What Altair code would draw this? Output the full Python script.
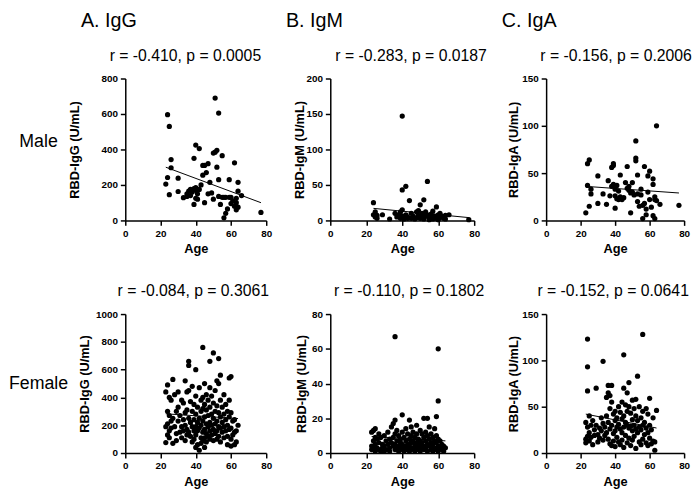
import altair as alt
import pandas as pd

FONT = "Liberation Sans"

# ---------------- data (age -> values) ----------------
male_igg = {23: [205], 24: [596, 242], 25: [530, 145], 26: [343, 297], 30: [238, 163],
            33: [128], 35: [150, 135], 36: [165], 37: [175, 140], 38: [160], 39: [350, 180, 90],
            40: [425, 185, 170, 125], 41: [120, 150], 42: [405, 175], 43: [200], 44: [310, 255],
            45: [310, 100], 46: [270], 47: [150, 320], 48: [215], 49: [155], 50: [380, 120],
            51: [690, 385], 52: [395, 300], 53: [605, 230, 135], 54: [90], 55: [365, 130],
            56: [15, 130], 57: [40, 130], 58: [65], 59: [130, 230], 60: [130, 95], 61: [110],
            62: [325, 80], 63: [125, 60, 100], 64: [215, 165, 75], 66: [140], 77: [45]}
male_igm = {24: [25, 8], 25: [5, 12], 26: [3, 7], 29: [8], 33: [2], 36: [10], 37: [5], 38: [8],
            39: [3, 12], 40: [147, 43, 15, 6], 41: [4, 2], 42: [48, 8], 43: [5, 3], 44: [28],
            45: [10, 3], 46: [6], 47: [2], 48: [12, 4], 49: [14, 7], 50: [22, 3], 51: [10, 5],
            52: [29, 2], 53: [12, 6], 54: [55, 8], 55: [3, 1], 56: [9, 4], 57: [13, 2], 58: [6],
            59: [19, 3], 60: [8, 1], 61: [10, 4], 62: [6], 63: [3], 64: [7, 2], 66: [8], 77: [1]}
male_iga = {23: [8], 24: [37, 60], 25: [64, 15], 26: [33, 28], 30: [47, 18], 33: [28], 35: [17],
            36: [42], 37: [26], 38: [36, 56], 39: [60, 58, 38], 40: [26, 13, 33], 41: [37, 23],
            42: [22, 31], 43: [48, 25], 44: [22], 45: [24], 46: [40], 47: [57, 34], 48: [32, 36],
            49: [29, 8], 50: [40, 30], 51: [27], 52: [84, 66, 63], 53: [48, 28, 20], 54: [15],
            55: [33, 27], 56: [2, 16], 57: [57, 18], 58: [6, 12], 59: [47, 30], 60: [52, 22],
            61: [14], 62: [44, 38, 5], 63: [25, 22, 2], 64: [100, 21], 66: [17], 77: [16]}
fem_igg = {23: [75, 190, 440], 24: [490, 300, 130, 210], 25: [270, 160, 400, 110],
           26: [380, 230, 180], 27: [530, 70, 250], 28: [190, 420], 29: [300, 140, 90],
           30: [440, 230, 330], 31: [150, 270], 32: [380, 190, 110], 33: [360, 240, 160],
           34: [520, 290, 200, 90], 35: [440, 310, 170, 130], 36: [660, 630, 450, 250, 150],
           37: [370, 220, 120], 38: [480, 300, 190, 80], 39: [350, 240, 160, 100],
           40: [600, 410, 280, 190, 130, 40], 41: [330, 220, 160, 60], 42: [470, 250, 180, 20],
           43: [380, 300, 200, 110, 70], 44: [760, 400, 320, 230, 150, 90],
           45: [500, 350, 260, 170, 110, 40], 46: [420, 310, 210, 140, 80], 47: [380, 270, 190, 120],
           48: [660, 470, 330, 220, 160, 100], 49: [410, 280, 200, 130], 50: [720, 360, 250, 170, 90],
           51: [450, 300, 210, 140], 52: [520, 340, 230, 160, 100], 53: [680, 500, 290, 190, 120],
           54: [560, 380, 260, 180, 80], 55: [330, 220, 150], 56: [420, 280, 190, 110],
           57: [350, 240, 160], 58: [300, 200, 120, 60], 59: [540, 380, 260, 170],
           60: [550, 290, 180, 100, 50], 61: [230, 130], 62: [240, 150, 60], 63: [160, 80], 64: [200]}
fem_igm = {23: [4, 12, 2], 24: [13, 7, 3], 25: [14, 9, 5, 1], 26: [8, 3], 27: [11, 6, 2], 28: [9, 1],
           29: [5, 3], 30: [10, 4, 1], 31: [7, 2], 32: [12, 5], 33: [8, 3, 1], 34: [15, 6],
           35: [17, 9, 4], 36: [67, 19, 11, 5, 2], 37: [13, 7, 3], 38: [10, 4, 1], 39: [8, 6, 2],
           40: [22, 12, 5, 3], 41: [9, 4, 1], 42: [14, 7, 2], 43: [11, 5, 3], 44: [19, 8, 4, 1],
           45: [15, 10, 6, 2], 46: [12, 7, 3], 47: [9, 5, 1], 48: [16, 11, 6, 3], 49: [8, 4, 2],
           50: [13, 7, 5, 1], 51: [11, 6, 3], 52: [20, 9, 4, 2], 53: [12, 7, 3], 54: [20, 10, 5, 1],
           55: [15, 8, 4], 56: [11, 6, 2], 57: [9, 5, 3, 1], 58: [14, 7, 2], 59: [21, 10, 6, 3],
           60: [60, 30, 8, 4, 1], 61: [7, 3], 62: [5, 2], 63: [4, 1], 64: [3]}
fem_iga = {23: [33, 15, 11], 24: [123, 93, 67, 28, 18], 25: [40, 22, 13], 26: [30, 17], 27: [35, 9],
           28: [25, 19], 29: [70, 30], 30: [20, 12], 31: [27, 16], 32: [38, 24], 33: [99, 32, 14],
           34: [28, 19], 35: [60, 40, 22], 36: [73, 65, 33, 15], 37: [62, 48, 26, 10],
           38: [73, 55, 30, 8], 39: [42, 21, 13], 40: [45, 35, 24, 7], 41: [38, 28, 17],
           42: [50, 31, 12], 43: [44, 26, 9], 44: [55, 37, 22, 14], 45: [106, 70, 40, 28, 6],
           46: [52, 33, 19], 47: [65, 45, 30, 11], 48: [76, 50, 27, 16], 49: [43, 29, 8],
           50: [57, 36, 24, 14], 51: [48, 30, 18], 52: [58, 40, 26, 5], 53: [83, 35, 22],
           54: [50, 28, 12], 55: [38, 25, 9], 56: [128, 45, 30, 15], 57: [33, 20], 58: [48, 27, 11],
           59: [42, 22, 8], 60: [59, 30, 16], 61: [25, 10], 62: [38, 13], 63: [12, 3], 64: [46]}

# regression lines: ([age start, age end], [value start, value end])
male_igg_fit = ([23, 77], [300, 100])
male_igm_fit = ([24, 77], [17, 4])
male_iga_fit = ([23, 77], [36, 29])
fem_igg_fit = ([23, 64], [282, 248])
fem_igm_fit = ([23, 64], [9.5, 7])
fem_iga_fit = ([23, 64], [42, 27])

stats = ["r = -0.410, p = 0.0005", "r = -0.283, p = 0.0187", "r = -0.156, p = 0.2006",
         "r = -0.084, p = 0.3061", "r = -0.110, p = 0.1802", "r = -0.152, p = 0.0641"]
headers = ["A. IgG", "B. IgM", "C. IgA"]
rows = ["Male", "Female"]
y_titles = ["RBD-IgG (U/mL)", "RBD-IgM (U/mL)", "RBD-IgA (U/mL)"]
x_ticks = [0, 20, 40, 60, 80]


def panel(data, fit, ymax, ystep, ytitle, stat, stat_x, w, h, title_x, header=None):
    df = pd.DataFrame([(a, v) for a, vs in data.items() for v in vs], columns=["Age", "Value"])
    x = alt.X("Age:Q", scale=alt.Scale(domain=[0, 80], nice=False),
              axis=alt.Axis(values=x_ticks, title="Age", format="d"))
    y = alt.Y("Value:Q", scale=alt.Scale(domain=[0, ymax], nice=False),
              axis=alt.Axis(values=list(range(0, ymax + 1, ystep)), title=ytitle, format="d",
                            titleX=title_x, titleBaseline="middle"))
    pts = alt.Chart(df).mark_circle(size=28, color="black", opacity=1).encode(x=x, y=y)
    fdf = pd.DataFrame({"Age": fit[0], "Value": fit[1]})
    line = alt.Chart(fdf).mark_line(color="black", strokeWidth=1).encode(x=x, y=y)
    sdf = pd.DataFrame({"t": [stat]})
    stat_txt = alt.Chart(sdf).mark_text(align="center", baseline="middle", fontSize=16,
                                        font=FONT, color="black").encode(
        text="t:N", x=alt.value(stat_x), y=alt.value(-23))
    layers = [pts, line, stat_txt]
    if header:
        hdf = pd.DataFrame({"t": [header]})
        layers.append(alt.Chart(hdf).mark_text(align="left", baseline="alphabetic", fontSize=20,
                                               font=FONT, color="black")
                      .encode(text="t:N", x=alt.value(-45), y=alt.value(-52)))
    return alt.layer(*layers).properties(width=w, height=h)


def label(txt, h, ypos):
    return alt.Chart(pd.DataFrame({"t": [txt]})).mark_text(
        fontSize=18, font=FONT, align="center", baseline="middle", color="black"
    ).encode(text="t:N", x=alt.value(28), y=alt.value(ypos)).properties(width=116, height=h)


def spacer(w):
    return alt.Chart(pd.DataFrame({"t": [""]})).mark_text().encode(text="t:N").properties(width=w, height=10)


W = [143, 146, 140]
H1, H2 = 144, 141

p1 = panel(male_igg, male_igg_fit, 800, 200, y_titles[0], stats[0], 61, W[0], H1, -51, headers[0])
p2 = panel(male_igm, male_igm_fit, 200, 50, y_titles[1], stats[1], 82, W[1], H1, -31, headers[1])
p3 = panel(male_iga, male_iga_fit, 150, 50, y_titles[2], stats[2], 71, W[2], H1, -33, headers[2])
p4 = panel(fem_igg, fem_igg_fit, 1000, 200, y_titles[0], stats[3], 69, W[0], H2, -41)
p5 = panel(fem_igm, fem_igm_fit, 80, 20, y_titles[1], stats[4], 80, W[1], H2, -29)
p6 = panel(fem_iga, fem_iga_fit, 150, 50, y_titles[2], stats[5], 68, W[2], H2, -33)

chart = alt.concat(
    label(rows[0], H1, 64), p1, spacer(65), p2, spacer(73), p3,
    label(rows[1], H2, 71), p4, spacer(65), p5, spacer(73), p6,
    columns=6, spacing=alt.RowColnumber(row=95, column=0), bounds="flush", align="each",
).properties(
    padding={"left": 0, "top": 0, "right": 0, "bottom": 0}
).configure_view(stroke=None).configure_axis(
    grid=False, domainColor="black", domainWidth=1.5, tickColor="black", tickWidth=1.5,
    tickSize=5, labelFont=FONT, labelFontSize=10, labelFontWeight="bold", labelColor="black",
    labelPadding=3, titleFont=FONT, titleFontSize=13, titleFontWeight="bold", titleColor="black",
).configure_axisX(titlePadding=5, labelFlush=False).configure_axisY(labelFlush=False)

chart.save("out.html", embed_options={"renderer": "svg", "actions": False})
